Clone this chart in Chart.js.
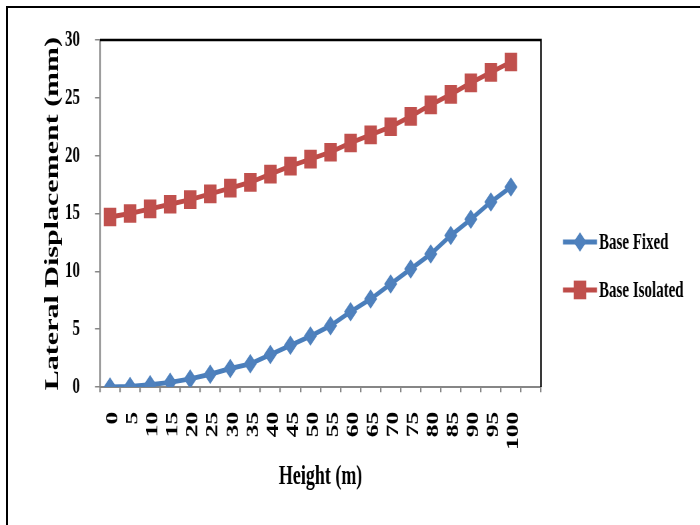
<!DOCTYPE html>
<html>
<head>
<meta charset="utf-8">
<title>Lateral Displacement vs Height</title>
<script src="https://cdn.jsdelivr.net/npm/chart.js@4.4.1/dist/chart.umd.min.js"></script>
<style>
  html, body { margin: 0; padding: 0; background: #fff; }
  body { width: 700px; height: 525px; position: relative; overflow: hidden; }
  /* outer frame, only top and left edges are visible */
  .frame { position: absolute; left: 6px; top: 6px; right: 0; bottom: 0; border-left: 2px solid #000; border-top: 2px solid #000; }
  /* the source picture is stretched vertically, so we draw at 700x350 and stretch */
  .stretch { position: absolute; left: 0; top: 0; width: 700px; height: 350px; transform: scaleY(1.5); transform-origin: 0 0; }
</style>
</head>
<body>
<div class="frame"></div>
<div class="stretch"><canvas id="chart" width="700" height="350"></canvas></div>
<script>
// Height categories (m); the axis has one extra empty slot after 100
const heights = ['0', '5', '10', '15', '20', '25', '30', '35', '40', '45', '50',
                 '55', '60', '65', '70', '75', '80', '85', '90', '95', '100', ''];

// Lateral displacement (mm)
const baseFixed = [0, 0.05, 0.2, 0.4, 0.7, 1.1, 1.6, 2.0, 2.8, 3.6, 4.4,
                   5.3, 6.5, 7.6, 8.9, 10.2, 11.5, 13.1, 14.5, 16.0, 17.3];
const baseIsolated = [14.7, 15.0, 15.4, 15.8, 16.2, 16.7, 17.2, 17.7, 18.4, 19.1, 19.7,
                      20.3, 21.1, 21.8, 22.5, 23.4, 24.4, 25.3, 26.3, 27.2, 28.1];

// y axis range
const yMin = 0;
const yMax = 30;
const yStep = 5;

const serif = '"Liberation Serif", "Times New Roman", serif';
const axisGray = '#868686';

Chart.defaults.font.family = serif;
Chart.defaults.color = '#000';

// black top and right edges of the plot area
const plotFrame = {
    id: 'plotFrame',
    afterDraw(chart) {
        const { ctx, chartArea: a } = chart;
        ctx.save();
        ctx.strokeStyle = '#000';
        ctx.lineWidth = 1.6;
        ctx.beginPath();
        ctx.moveTo(a.left, a.top);
        ctx.lineTo(a.right, a.top);
        ctx.lineTo(a.right, a.bottom);
        ctx.stroke();
        ctx.restore();
    }
};

// legend on the right: line + marker + label
const sideLegend = {
    id: 'sideLegend',
    afterDraw(chart) {
        const { ctx, chartArea: a } = chart;
        const x0 = a.right + 22;
        chart.data.datasets.forEach((ds, i) => {
            const y = a.top + 134.6 + i * 32;
            ctx.save();
            ctx.strokeStyle = ds.borderColor;
            ctx.lineWidth = ds.borderWidth;
            ctx.beginPath();
            ctx.moveTo(x0, y);
            ctx.lineTo(x0 + 34, y);
            ctx.stroke();
            ctx.fillStyle = ds.pointBackgroundColor;
            Chart.helpers.drawPoint(ctx, {
                pointStyle: ds.pointStyle,
                radius: ds.pointRadius,
                borderWidth: 0,
                rotation: 0
            }, x0 + 17, y);
            ctx.fillStyle = '#000';
            ctx.font = 'bold 15px ' + serif;
            ctx.textBaseline = 'middle';
            ctx.textAlign = 'left';
            ctx.fillText(ds.label, x0 + 36, y + 1);
            ctx.restore();
        });
    }
};

new Chart(document.getElementById('chart'), {
    type: 'line',
    data: {
        labels: heights,
        datasets: [{
            label: 'Base Fixed',
            data: baseFixed,
            borderColor: '#4A7EBB',
            backgroundColor: '#4F81BD',
            pointBackgroundColor: '#4F81BD',
            pointBorderWidth: 0,
            pointStyle: 'rectRot',
            pointRadius: 6.5,
            borderWidth: 3.3,
            tension: 0
        }, {
            label: 'Base Isolated',
            data: baseIsolated,
            borderColor: '#BE4B48',
            backgroundColor: '#C0504D',
            pointBackgroundColor: '#C0504D',
            pointBorderWidth: 0,
            pointStyle: 'rect',
            pointRadius: 8.8,
            borderWidth: 3.3,
            tension: 0
        }]
    },
    options: {
        responsive: false,
        animation: false,
        devicePixelRatio: 1.5,
        layout: {
            padding: { left: 37, top: 26.7, right: 159, bottom: 17 }
        },
        plugins: {
            legend: { display: false },
            tooltip: { enabled: false }
        },
        scales: {
            x: {
                type: 'category',
                offset: true,
                grid: {
                    offset: true,
                    drawOnChartArea: false,
                    tickLength: 3.5,
                    color: axisGray,
                    lineWidth: 1.5
                },
                border: { color: axisGray, width: 1.4 },
                ticks: {
                    autoSkip: false,
                    minRotation: 90,
                    maxRotation: 90,
                    padding: 13,
                    labelOffset: 3,
                    color: '#000',
                    font: { size: 17, weight: 'bold' }
                },
                title: {
                    display: true,
                    text: 'Height (m)',
                    color: '#000',
                    font: { size: 18, weight: 'bold' },
                    padding: { top: 4, bottom: 4 }
                },
                afterFit(scale) { scale.height = 75; }
            },
            y: {
                min: yMin,
                max: yMax,
                grid: {
                    drawOnChartArea: false,
                    tickLength: 5,
                    color: axisGray,
                    lineWidth: 1
                },
                border: { color: axisGray, width: 1.5 },
                ticks: {
                    stepSize: yStep,
                    padding: 15,
                    color: '#000',
                    font: { size: 15, weight: 'bold' }
                },
                title: {
                    display: true,
                    text: 'Lateral Displacement (mm)',
                    color: '#000',
                    font: { size: 20, weight: 'bold' },
                    padding: { top: 4, bottom: 4 }
                },
                afterFit(scale) { scale.width = 63; }
            }
        }
    },
    plugins: [plotFrame, sideLegend]
});
</script>
</body>
</html>
